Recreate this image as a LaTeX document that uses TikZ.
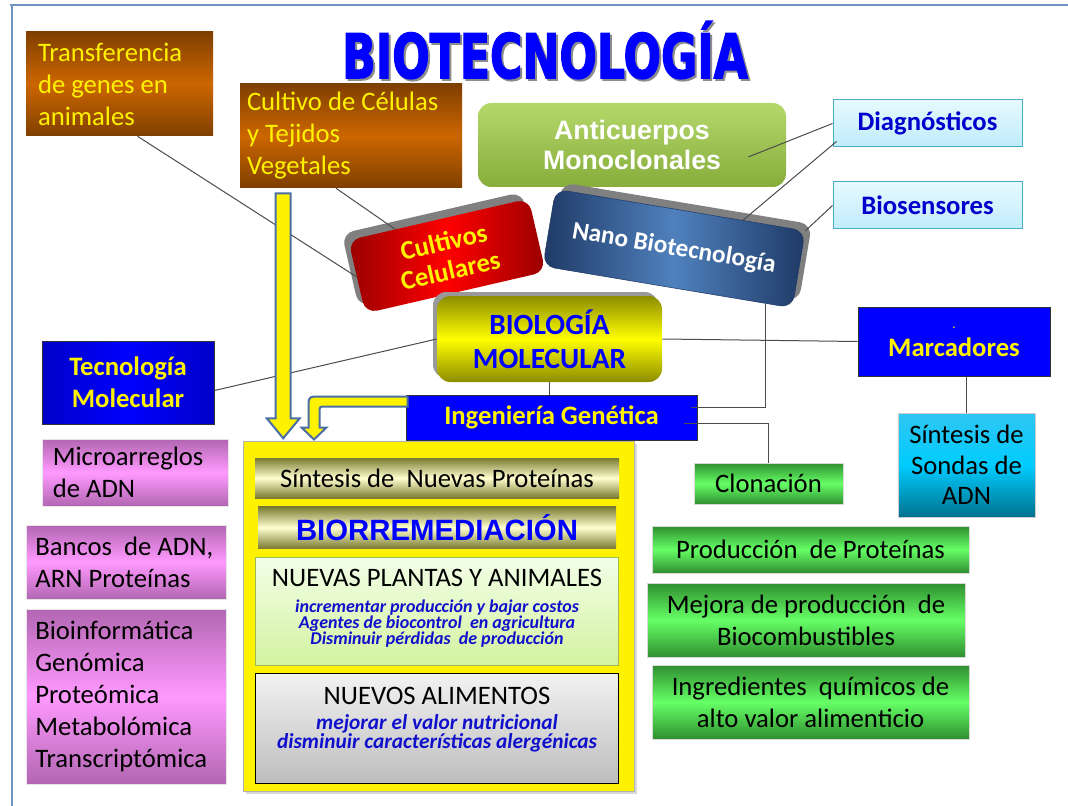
\documentclass[tikz,border=0pt]{standalone}
\usepackage{fontspec}
\setmainfont{Carlito}
\newfontfamily\arialfont{Liberation Sans}
\newfontfamily\titlefont{DejaVu Sans}[BoldFeatures={FakeBold=2.5}]
\usepackage{tikz}
\usetikzlibrary{calc,positioning,shadows}

\definecolor{orgdark}{HTML}{7F3F00}
\definecolor{orgmid}{HTML}{CC6600}
\definecolor{antitop}{HTML}{B5D86A}
\definecolor{antibot}{HTML}{86AD3C}
\definecolor{skytop}{HTML}{E6F9FF}
\definecolor{skybot}{HTML}{C0ECFB}
\definecolor{skyline}{HTML}{4BACC6}
\definecolor{reddark}{HTML}{990000}
\definecolor{nanodark}{HTML}{1F3A66}
\definecolor{nanomid}{HTML}{4F81BD}
\definecolor{olivedark}{HTML}{8C8C00}
\definecolor{tecdark}{HTML}{0000C8}
\definecolor{sondtop}{HTML}{30C6F2}
\definecolor{sondmid}{HTML}{00CCFF}
\definecolor{sondbot}{HTML}{00738F}
\definecolor{grndark}{HTML}{2F8F2F}
\definecolor{grnmid}{HTML}{66FF66}
\definecolor{pinkdark}{HTML}{B266B2}
\definecolor{pinkmid}{HTML}{FF99FF}
\definecolor{khakidark}{HTML}{7A7A30}
\definecolor{khakimid}{HTML}{FFFFD0}
\definecolor{planttop}{HTML}{F2FFE8}
\definecolor{plantbot}{HTML}{D4F2A0}
\definecolor{plantline}{HTML}{9BBB59}
\definecolor{alimtop}{HTML}{F2F2F2}
\definecolor{alimbot}{HTML}{BDBDBD}
\definecolor{arrowline}{HTML}{4A6FA5}
\definecolor{frameblue}{HTML}{7393C3}
\definecolor{itemblue}{HTML}{1010CC}

\newcommand{\boxfont}{\fontsize{20}{24}\selectfont}
\newcommand{\headfont}{\bfseries\fontsize{20}{24}\selectfont}

\tikzset{
  link/.style={draw=black!70, line width=0.75pt},
  sz/.style args={#1,#2}{minimum width=#1*0.75pt, minimum height=#2*0.75pt, inner sep=0pt},
  vgrad/.style args={#1,#2}{top color=#1, bottom color=#1, middle color=#2},
  hgrad/.style args={#1,#2}{left color=#1, right color=#1, middle color=#2},
  orangebox/.style={vgrad={orgdark,orgmid}, text=yellow, font=\boxfont, align=flush left},
  antibox/.style={top color=antitop, bottom color=antibot, rounded corners=10pt,
    text=white, font=\arialfont\bfseries\fontsize{20}{22.5}\selectfont, align=center},
  skybox/.style={top color=skytop, bottom color=skybot, draw=skyline, line width=0.75pt,
    text=blue!80!black, font=\headfont},
  redbox/.style={hgrad={reddark,red}, rounded corners=9pt, text=yellow,
    font=\bfseries\fontsize{20}{22}\selectfont, align=center,
    drop shadow={shadow xshift=-5pt, shadow yshift=5pt, fill=black!50, opacity=1}},
  nanobox/.style={hgrad={nanodark,nanomid}, draw=nanodark, rounded corners=9pt, text=white,
    font=\bfseries\fontsize{19}{22}\selectfont,
    drop shadow={shadow xshift=5pt, shadow yshift=5pt, fill=black!50, opacity=1}},
  biolbox/.style={vgrad={olivedark,yellow}, rounded corners=10pt, text=blue,
    font=\bfseries\fontsize{22}{25.5}\selectfont, align=center,
    drop shadow={shadow xshift=-3pt, shadow yshift=3pt, fill=black!40, opacity=1}},
  bluebox/.style={fill=blue, draw=black!80, line width=0.75pt, text=yellow, font=\headfont, align=center},
  tecbox/.style={bluebox, hgrad={tecdark,blue}},
  sondabox/.style={top color=sondtop, bottom color=sondbot, middle color=sondmid, draw=black!20,
    font=\fontsize{20}{23}\selectfont, align=center},
  greenbox/.style={vgrad={grndark,grnmid}, draw=black!15, font=\boxfont, align=center},
  pinkbox/.style={vgrad={pinkdark,pinkmid}, draw=black!10, font=\boxfont, align=flush left},
  bigbox/.style={fill=yellow, draw=black!30, drop shadow={opacity=0.3}},
  khakibox/.style={vgrad={khakidark,khakimid}, font=\boxfont},
  plantbox/.style={top color=planttop, bottom color=plantbot, draw=plantline},
  alimbox/.style={top color=alimtop, bottom color=alimbot, draw=black, line width=0.75pt},
  itemtext/.style={text=itemblue, font=\bfseries\itshape\fontsize{13.5}{12}\selectfont, align=center, inner sep=0pt},
  fatarrow/.style={fill=yellow, draw=arrowline, line width=1.5pt, line join=miter},
  frameline/.style={draw=frameblue, line width=1.5pt},
  titletext/.style={font=\titlefont\bfseries\fontsize{46}{46}\selectfont, anchor=base, inner sep=0pt}
}

\begin{document}
\begin{tikzpicture}[x=0.75pt,y=-0.75pt]
  \fill[white] (0,0) rectangle (1068,806);
  \useasboundingbox (0,0) rectangle (1068,806);
  \draw[frameline] (10,5) -- (1068,5);
  \draw[frameline] (12,5) -- (12,806);

  % titulo
  \node[titletext, text=black!45] (titlesh) at (547,80) {\scalebox{0.72}[1]{BIOTECNOLOGÍA}};
  \node[titletext, text=blue] (title) at (545,78) {\scalebox{0.72}[1]{BIOTECNOLOGÍA}};

  % parte superior
  \node[orangebox, sz={187,104}, text width=122.25pt, inner xsep=9pt] (transf) at (119.5,84)
    {Transferencia\\de genes en\\animales};
  \node[orangebox, sz={222,104}, text width=156pt, inner xsep=5.25pt] (cultivo) at (351,136)
    {Cultivo de Células\\y Tejidos\\Vegetales};
  \node[antibox, sz={308,84}] (anti) at (632,145) {Anticuerpos\\Monoclonales};
  \node[skybox, sz={189,47}] (diag) at (927.5,123.5) {Diagnósticos};
  \node[skybox, sz={189,47}] (bios) at (927.5,205.5) {Biosensores};
  \node[redbox, sz={185,75}, rotate=13] (cultivos) at (447,256) {Cultivos\\Celulares};
  \node[nanobox, sz={253,78}, rotate=-9.5] (nano) at (674,248.5) {Nano Biotecnología};

  % centro
  \node[biolbox, sz={225,86}] (biolog) at (549.5,339) {BIOLOGÍA\\MOLECULAR};
  \node[bluebox, sz={291,45}] (ing) at (551.5,417.5) {Ingeniería Genética};
  \node[tecbox, sz={172,83}] (tecmol) at (128,382.5) {Tecnología\\Molecular};
  \node[bluebox, sz={192,69}] (marc) at (954,341.5) {{\fontsize{8}{8}\selectfont .}\\[-3pt]Marcadores};
  \node[sondabox, sz={137,104}] (sondas) at (966.5,465) {Síntesis de\\Sondas de\\ADN};

  % derecha
  \node[greenbox, sz={149,41}] (clon) at (768.5,483.5) {Clonación};
  \node[greenbox, sz={317,47}] (prodprot) at (810.5,549.5) {Producción\ \ de Proteínas};
  \node[greenbox, sz={318,74}] (mejora) at (806,620) {Mejora de producción\ \ de\\Biocombustibles};
  \node[greenbox, sz={317,74}] (ingred) at (810.5,702) {Ingredientes\ \ químicos de\\alto valor alimenticio};

  % izquierda
  \node[pinkbox, sz={185,67}, text width=124pt, inner xsep=7.75pt] (micro) at (135.5,472.5)
    {Microarreglos\\de ADN};
  \node[pinkbox, sz={200,74}, text width=136pt, inner xsep=7pt] (bancos) at (126,562)
    {Bancos\ \ de ADN,\\ARN Proteínas};
  \node[pinkbox, sz={200,175}, text width=136pt, inner xsep=7pt] (bioinf) at (126,696.5)
    {Bioinformática\\Genómica\\Proteómica\\Metabolómica\\Transcriptómica};

  % caja amarilla
  \node[bigbox, sz={391,350}] (bigyel) at (438.5,616) {};
  \node[khakibox, sz={364,40}] (sintesis) at (437,478) {Síntesis de\ \ Nuevas Proteínas};
  \node[khakibox, sz={358,42}, below=6pt of sintesis, text=blue,
    font=\arialfont\bfseries\fontsize{22}{24}\selectfont] (biorr) {BIORREMEDIACIÓN};
  \node[plantbox, sz={363,108}, below=6pt of biorr] (plantas) {};
  \node[alimbox, sz={363,110}, below=6pt of plantas] (alim) {};
  \node[font=\boxfont, inner sep=0pt, anchor=base] (plantastit) at ($(plantas.north)+(0,30)$)
    {NUEVAS PLANTAS Y ANIMALES};
  \node[itemtext, below=9pt of plantastit] (plantasinfo)
    {incrementar producción y bajar costos\\Agentes de biocontrol\ \ en agricultura\\Disminuir pérdidas\ \ de producción};
  \node[font=\boxfont, inner sep=0pt, anchor=base] (alimtit) at ($(alim.north)+(0,31)$)
    {NUEVOS ALIMENTOS};
  \node[itemtext, font=\bfseries\itshape\fontsize{16}{14.5}\selectfont, below=7pt of alimtit] (aliminfo)
    {mejorar el valor nutricional\\disminuir características alergénicas};

  % conectores
  \draw[link] ($(transf.south)+(18,0)$) -- (cultivos.west);
  \draw[link] ($(cultivo.south)+(-15,0)$) -- ($(cultivos.north west)!0.26!(cultivos.north east)$);
  \draw[link] ($(anti.east)+(-38,12)$) -- (diag.west);
  \draw[link] ($(diag.south west)+(4,-6)$) -- ($(nano.north west)!0.75!(nano.north east)$);
  \draw[link] (bios.west) -- (nano.north east);
  \draw[link] (biolog.west) -- ($(tecmol.east)+(0,8)$);
  \draw[link] (biolog.east) -- (marc.west);
  \draw[link] (biolog.south) -- (biolog.south |- ing.north);
  \draw[link] ($(nano.south west)!0.89!(nano.south east)$) |- ($(ing.east)+(-7,-10)$);
  \draw[link] ($(ing.east)+(-14,6)$) -| (clon.north);
  \draw[link] (sondas.north) -- (sondas.north |- marc.south);

  % flechas
  \begin{scope}[shift={(cultivo.south west)}]
    \draw[fatarrow] (36,5) -- (51,5) -- (51,230) -- (60,230) -- (43.5,250) -- (27,230) -- (36,230) -- cycle;
  \end{scope}
  \begin{scope}[shift={(ing.north west)}]
    \draw[fatarrow] (2,2) -- (-85,2) .. controls (-97,2) .. (-97,14) -- (-97,33) -- (-104,33)
      -- (-91.5,45) -- (-79,33) -- (-86,33) -- (-86,18) .. controls (-86,12) .. (-80,12) -- (2,12) -- cycle;
  \end{scope}
\end{tikzpicture}
\end{document}
